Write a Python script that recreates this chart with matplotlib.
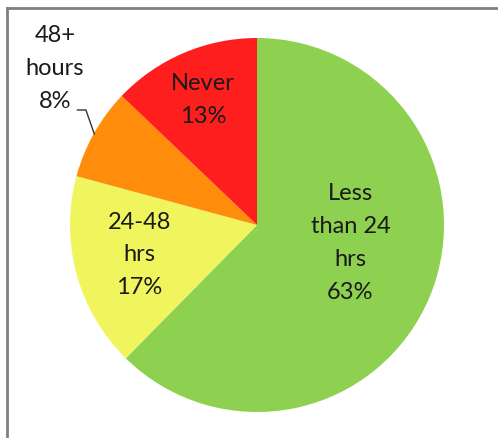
import matplotlib
matplotlib.use("Agg")
import matplotlib.pyplot as plt
from matplotlib.lines import Line2D

plt.rcParams['font.family'] = ['Lato', 'DejaVu Sans']

labels = ['Less\nthan 24\nhrs', '24-48\nhrs', '48+\nhours', 'Never']
shares = [63, 17, 8, 13]
colors = ['#8ED150', '#F0F55E', '#FF8C0A', '#FF1E1E']

fig = plt.figure(figsize=(4.98, 4.38), dpi=100)
ax = fig.add_axes([0, 0, 1, 1])

wedges, _ = ax.pie(shares, colors=colors, startangle=90, counterclock=False,
                   radius=1.0, wedgeprops=dict(linewidth=0))

# 1 data unit = 187 px, pie centre at (257, 225) px from the top-left
ax.set_xlim(-257 / 187, (498 - 257) / 187)
ax.set_ylim((225 - 438) / 187, 225 / 187)
ax.set_aspect('auto')
ax.axis('off')

# label positions (data units)
label_pos = [(0.50, -0.095), (-0.63, -0.16), (-1.08, 0.835), (-0.29, 0.67)]
for lab, val, (x, y) in zip(labels, shares, label_pos):
    ax.text(x, y, f'{lab}\n{val}%', ha='center', va='center', fontsize=17,
            linespacing=1.7, color='#1a1a1a')

# leader line for the small slice
ax.plot([-0.96, -0.915, -0.87], [0.615, 0.615, 0.487], color='#333333', lw=1)

# chart frame (top and left edges visible)
fig.add_artist(Line2D([7 / 498, 1], [1 - 8 / 438, 1 - 8 / 438], color='#808080', lw=2))
fig.add_artist(Line2D([7 / 498, 7 / 498], [0, 1 - 8 / 438], color='#808080', lw=2))

fig.savefig('out.png', dpi=100)
